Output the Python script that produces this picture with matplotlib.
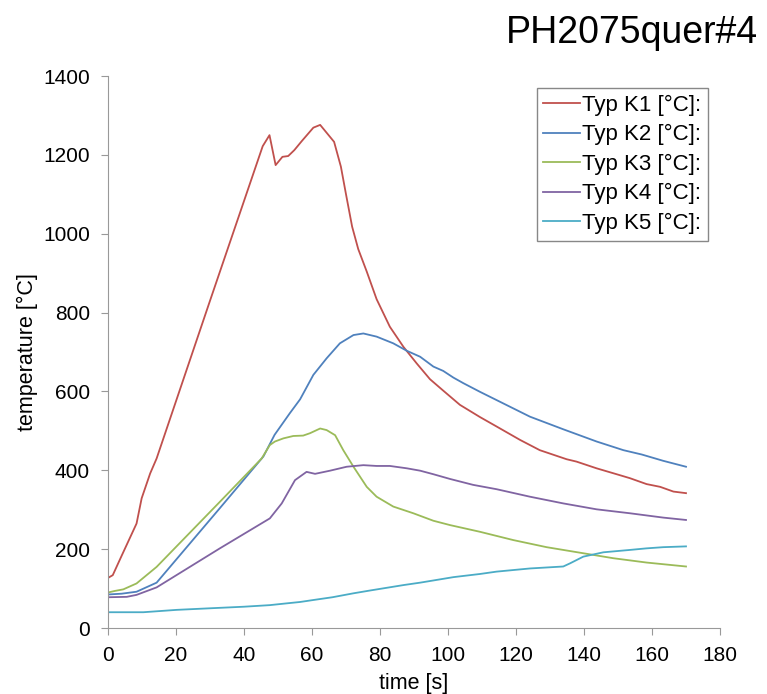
#!/usr/bin/env python
"""Thermocouple temperature curves for sample PH2075quer#4."""

import matplotlib

matplotlib.use("Agg")
import matplotlib.pyplot as plt

plt.rcParams["font.family"] = ["Liberation Sans", "DejaVu Sans"]

# time [s] / temperature [°C]
k1_t = [0, 1.4, 4, 8.4, 9.9, 12.4, 14.3, 30, 45.5, 47.5, 49.3,
        51.3, 53, 54.8, 57, 60.4, 62.4, 66.5, 68.5, 70, 71.8, 73.6, 76.1, 79, 82.9,
        86.9, 90.8, 94.7, 98.6, 103.5, 109.4, 114.3, 121.2, 127, 134.9, 137.8,
        143.7, 149.6, 153.5, 158.4, 162.4, 166.3, 170]
k1_v = [127, 134, 183, 265, 329, 392, 430, 830, 1222, 1250, 1174,
        1195, 1197, 1212, 1235, 1269, 1276, 1233, 1170, 1100, 1018, 961, 904, 834, 764,
        713, 671, 631, 602, 566, 535, 511, 477, 451, 428, 422,
        405, 390, 380, 365, 358, 346, 342]

k2_t = [0, 4, 8.4, 14.3, 32.9, 45.7, 49, 53.5, 56.5, 60.4, 64.3, 68.2,
        72.2, 75.1, 79, 83.9, 87.9, 91.8, 95.7, 98.6, 101.6, 104.5, 109.4, 114.3,
        124.1, 133.9, 143.7, 151.6, 157, 163.3, 170]
k2_v = [85, 87, 92, 115, 304, 435, 490, 545, 580, 642, 684, 722,
        743, 747, 739, 722, 703, 688, 663, 652, 635, 621, 599, 578,
        536, 504, 473, 451, 440, 424, 409]

k3_t = [0, 2, 4.5, 8.4, 14.3, 32.9, 45.2, 47.6, 49.1, 51.6, 54.5, 57.4,
        59.4, 62.4, 64.3, 66.8, 69.2, 72.2, 76.1, 79, 83.9, 89.8, 95.7, 100.6,
        109.4, 119.2, 129, 138.8, 148.6, 158.4, 170]
k3_v = [90, 94, 98, 113, 155, 320, 430, 464, 473, 481, 487, 488,
        494, 506, 502, 489, 451, 409, 358, 333, 308, 291, 272, 261,
        244, 223, 205, 191, 177, 166, 156]

k4_t = [0, 5.5, 8.4, 14.3, 32.9, 47.6, 51.1, 55, 58.4, 60.9, 65.3,
        70.2, 75.1, 79, 82.9, 87.9, 91.8, 95.7, 100.6, 107.4, 114.3, 124.1,
        133.9, 143.7, 153.5, 163.3, 170]
k4_v = [78, 79, 84, 103, 202, 278, 316, 375, 396, 391, 399,
        409, 413, 411, 411, 405, 399, 390, 378, 363, 352, 333,
        316, 301, 291, 280, 274]

k5_t = [0, 10.4, 20.2, 30, 40, 47.6, 52, 56.5, 60.4, 66, 72.2, 77, 82, 87, 91.8,
        96, 101.6, 104.5, 109.4, 114.3, 124.1, 133.9, 135.9, 139.8, 145.7, 153.5,
        158.4, 163.3, 170]
k5_v = [40, 40, 46, 50, 54, 58, 62, 66, 71, 78, 88, 95, 102, 109, 115,
        121, 129, 132, 137, 143, 151, 156, 164, 181, 192, 198,
        202, 205, 207]

series = [
    ("Typ K1 [°C]:", k1_t, k1_v, "#c0504d"),
    ("Typ K2 [°C]:", k2_t, k2_v, "#4f81bd"),
    ("Typ K3 [°C]:", k3_t, k3_v, "#9bbb59"),
    ("Typ K4 [°C]:", k4_t, k4_v, "#8064a2"),
    ("Typ K5 [°C]:", k5_t, k5_v, "#4bacc6"),
]

fig = plt.figure(figsize=(7.67, 6.94), dpi=100)
ax = fig.add_axes([108 / 767, 1 - 628 / 694, 612 / 767, 552 / 694])

for label, t, v, color in series:
    ax.plot(t, v, color=color, linewidth=1.3, label=label)

ax.set_xlim(0, 180)
ax.set_ylim(0, 1400)
ax.set_xticks(range(0, 181, 20))
ax.set_yticks(range(0, 1401, 200))
for side in ("top", "right"):
    ax.spines[side].set_visible(False)
for side in ("left", "bottom"):
    ax.spines[side].set_color("#999999")
ax.tick_params(direction="out", length=5, color="#999999", labelsize=15, pad=8)

ax.set_xlabel("time [s]", fontsize=15.5, labelpad=6)
ax.set_ylabel("temperature [°C]", fontsize=15.5, labelpad=4)

leg = ax.legend(loc="upper right", bbox_to_anchor=(708 / 767, 1 - 88 / 694),
                bbox_transform=fig.transFigure, fontsize=16,
                handlelength=1.65, handletextpad=0.1, borderpad=0.3,
                labelspacing=0.38, fancybox=False, framealpha=1,
                borderaxespad=0)
leg.get_frame().set_edgecolor("#888888")
leg.get_frame().set_linewidth(1.0)

fig.text(0.988, 0.978, "PH2075quer#4", ha="right", va="top", fontsize=27)

fig.savefig("out.png", dpi=100)
